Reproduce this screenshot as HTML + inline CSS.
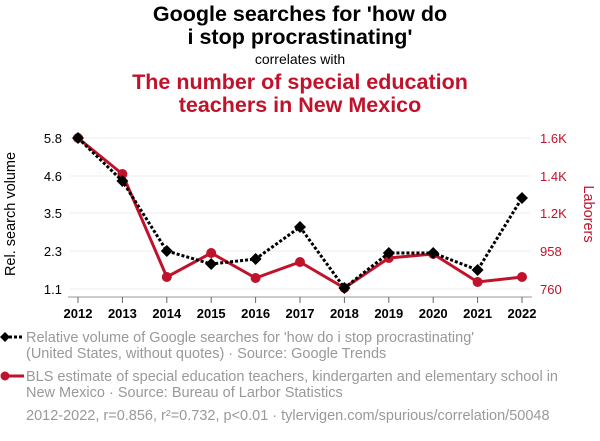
<!DOCTYPE html>
<html><head><style>
body{margin:0;width:600px;height:436px;background:#fff;font-family:"Liberation Sans",sans-serif;overflow:hidden}
</style></head><body>
<svg width="600" height="436" xmlns="http://www.w3.org/2000/svg" font-family="Liberation Sans, sans-serif">
<text x="300" y="21" text-anchor="middle" font-size="21.5" font-weight="bold" fill="#000">Google searches for 'how do</text>
<text x="300" y="44" text-anchor="middle" font-size="21.5" font-weight="bold" fill="#000">i stop procrastinating'</text>
<text x="300" y="64" text-anchor="middle" font-size="14" fill="#000">correlates with</text>
<text x="300" y="89" text-anchor="middle" font-size="21.5" font-weight="bold" fill="#c0132b">The number of special education</text>
<text x="300" y="112" text-anchor="middle" font-size="21.5" font-weight="bold" fill="#c0132b">teachers in New Mexico</text>
<g stroke="#eee" stroke-width="1">
<line x1="70" x2="530" y1="138" y2="138"/><line x1="70" x2="530" y1="176" y2="176"/><line x1="70" x2="530" y1="213" y2="213"/><line x1="70" x2="530" y1="251" y2="251"/><line x1="70" x2="530" y1="289" y2="289"/>
</g>
<line x1="68" x2="532" y1="297" y2="297" stroke="#999"/>
<g stroke="#666"><line x1="78" x2="78" y1="297" y2="303"/><line x1="122.4" x2="122.4" y1="297" y2="303"/><line x1="166.8" x2="166.8" y1="297" y2="303"/><line x1="211.2" x2="211.2" y1="297" y2="303"/><line x1="255.6" x2="255.6" y1="297" y2="303"/><line x1="300" x2="300" y1="297" y2="303"/><line x1="344.4" x2="344.4" y1="297" y2="303"/><line x1="388.8" x2="388.8" y1="297" y2="303"/><line x1="433.2" x2="433.2" y1="297" y2="303"/><line x1="477.6" x2="477.6" y1="297" y2="303"/><line x1="522" x2="522" y1="297" y2="303"/></g>
<g font-size="13" font-weight="bold" text-anchor="middle" fill="#000">
<text x="78" y="318">2012</text><text x="122.4" y="318">2013</text><text x="166.8" y="318">2014</text><text x="211.2" y="318">2015</text><text x="255.6" y="318">2016</text><text x="300" y="318">2017</text><text x="344.4" y="318">2018</text><text x="388.8" y="318">2019</text><text x="433.2" y="318">2020</text><text x="477.6" y="318">2021</text><text x="522" y="318">2022</text>
</g>
<g font-size="13" text-anchor="end" fill="#000">
<text x="62" y="143">5.8</text><text x="62" y="181">4.6</text><text x="62" y="218">3.5</text><text x="62" y="256">2.3</text><text x="62" y="294">1.1</text>
</g>
<g font-size="13" fill="#c0132b">
<text x="540" y="143">1.6K</text><text x="540" y="181">1.4K</text><text x="540" y="218">1.2K</text><text x="540" y="256">958</text><text x="540" y="294">760</text>
</g>
<text transform="translate(15,214) rotate(-90)" text-anchor="middle" font-size="14.5" fill="#000">Rel. search volume</text>
<text transform="translate(584,214) rotate(90)" text-anchor="middle" font-size="14.5" fill="#c0132b">Laborers</text>
<polyline fill="none" stroke="#c0132b" stroke-width="3" points="78,138 122.4,174 166.8,277 211.2,253 255.6,278 300,262 344.4,288 388.8,258 433.2,254 477.6,282 522,277"/>
<g fill="#c0132b"><circle cx="78" cy="138" r="5"/><circle cx="122.4" cy="174" r="5"/><circle cx="166.8" cy="277" r="5"/><circle cx="211.2" cy="253" r="5"/><circle cx="255.6" cy="278" r="5"/><circle cx="300" cy="262" r="5"/><circle cx="344.4" cy="288" r="5"/><circle cx="388.8" cy="258" r="5"/><circle cx="433.2" cy="254" r="5"/><circle cx="477.6" cy="282" r="5"/><circle cx="522" cy="277" r="5"/></g>
<polyline fill="none" stroke="#000" stroke-width="3" stroke-dasharray="3,2" points="78,138 122.4,181 166.8,251 211.2,264 255.6,259 300,227 344.4,288 388.8,253 433.2,253 477.6,270 522,198"/>
<g fill="#000">
<path d="M78 132l6 6-6 6-6-6z"/><path d="M122.4 175l6 6-6 6-6-6z"/><path d="M166.8 245l6 6-6 6-6-6z"/><path d="M211.2 258l6 6-6 6-6-6z"/><path d="M255.6 253l6 6-6 6-6-6z"/><path d="M300 221l6 6-6 6-6-6z"/><path d="M344.4 282l6 6-6 6-6-6z"/><path d="M388.8 247l6 6-6 6-6-6z"/><path d="M433.2 247l6 6-6 6-6-6z"/><path d="M477.6 264l6 6-6 6-6-6z"/><path d="M522 192l6 6-6 6-6-6z"/>
</g>
<line x1="4" x2="24" y1="337" y2="337" stroke="#000" stroke-width="3" stroke-dasharray="3,2"/>
<path d="M5 332l5 5-5 5-5-5z" fill="#000"/>
<line x1="4" x2="24" y1="376" y2="376" stroke="#c0132b" stroke-width="3"/>
<circle cx="5" cy="376" r="4.5" fill="#c0132b"/>
<g font-size="14.5" fill="#999">
<text x="26" y="342">Relative volume of Google searches for 'how do i stop procrastinating'</text>
<text x="26" y="358">(United States, without quotes) · Source: Google Trends</text>
<text x="26" y="381">BLS estimate of special education teachers, kindergarten and elementary school in</text>
<text x="26" y="397">New Mexico · Source: Bureau of Larbor Statistics</text>
<text x="26" y="420">2012-2022, r=0.856, r²=0.732, p&lt;0.01 · tylervigen.com/spurious/correlation/50048</text>
</g>
</svg>
</body></html>
